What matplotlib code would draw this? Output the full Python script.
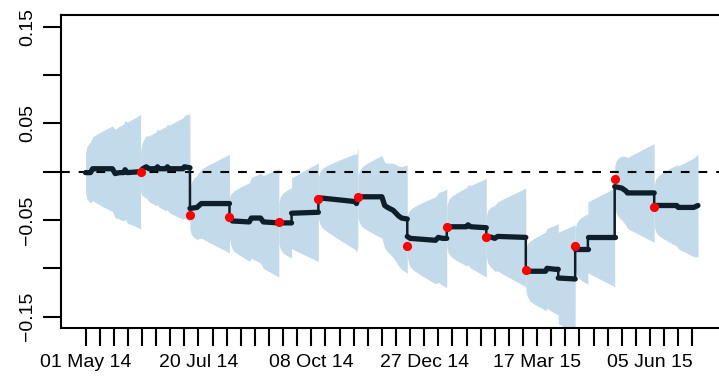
import datetime as dt
import numpy as np
import matplotlib
matplotlib.use("Agg")
import matplotlib.pyplot as plt

plt.rcParams['font.family'] = ['Liberation Sans', 'DejaVu Sans']

START = dt.date(2014, 5, 1)

# estimated series, as vertices (days since START, value); repeated day = jump
line_day = [0, 3.5, 5, 19, 21, 24, 27, 28, 29.5, 39, 40.5, 43, 45, 50, 51, 52, 57, 58, 59, 69, 70, 74,
            74, 79, 82, 102,
            102, 104, 116, 117.5, 124, 126, 137, 146,
            146, 165,
            165, 185, 191, 192, 193, 210, 212, 214, 218, 222, 224, 228,
            228, 230, 248, 250, 253, 256,
            256, 270, 271, 273, 284,
            284, 288, 290, 292, 312,
            312, 315, 326, 327, 333, 335,
            335, 347,
            347, 356,
            356, 375,
            375, 380, 383, 384, 403,
            403, 419, 420, 431, 434]
line_val = [-0.001, -0.001, 0.003, 0.003, -0.002, -0.001, -0.001, 0.002, -0.001, 0.000, 0.003, 0.005, 0.003,
            0.003, 0.005, 0.003, 0.003, 0.005, 0.003, 0.003, 0.005, 0.004,
            -0.038, -0.037, -0.033, -0.033,
            -0.048, -0.051, -0.052, -0.048, -0.048, -0.052, -0.053, -0.053,
            -0.043, -0.042,
            -0.027, -0.030, -0.031, -0.033, -0.026, -0.026, -0.035, -0.037, -0.040, -0.046, -0.048, -0.049,
            -0.067, -0.069, -0.071, -0.068, -0.069, -0.069,
            -0.057, -0.057, -0.055, -0.057, -0.058,
            -0.067, -0.068, -0.069, -0.067, -0.068,
            -0.101, -0.103, -0.103, -0.100, -0.101, -0.101,
            -0.110, -0.111,
            -0.080, -0.080,
            -0.068, -0.068,
            -0.0155, -0.017, -0.020, -0.022, -0.022,
            -0.035, -0.035, -0.037, -0.037, -0.035]

# forecast origins (red points)
origin_day = [39, 74, 102, 137, 165, 193, 228, 256, 284, 312, 347, 375, 403]
origin_val = [0.000, -0.045, -0.047, -0.052, -0.028, -0.026, -0.077, -0.057, -0.068, -0.102, -0.077, -0.008, -0.037]

# interval half-width vs. days since window start
band_h = [0, 1, 3, 6, 12, 20, 28, 35, 40]
band_w = [0.021, 0.027, 0.031, 0.034, 0.039, 0.045, 0.051, 0.056, 0.060]

window_start = [0] + origin_day
window_end = origin_day + [434]

xtick_days = list(range(0, 431, 10))
xlabel_days = [0, 80, 160, 240, 320, 400]
ytick_vals = [-0.15, -0.10, -0.05, 0.0, 0.05, 0.10, 0.15]
ytick_labels = ['\u22120.15', '', '\u22120.05', '', '0.05', '', '0.15']

line_color = '#0f1e2b'
band_color = '#c3daea'

fig = plt.figure(figsize=(7.19, 3.78), dpi=100)
ax = fig.add_axes([61 / 719, 1 - 328 / 378, (722.5 - 61) / 719, (328 - 15) / 378])

ld = np.array(line_day, dtype=float)
lv = np.array(line_val)

for s, e in zip(window_start, window_end):
    t = np.linspace(s + 0.01, e, 600)
    c = np.interp(t, ld, lv)
    w = np.interp(t - s, band_h, band_w)
    ax.fill_between(t, c - w, c + w, color=band_color, lw=0, zorder=1)

ax.axhline(0, color='black', lw=1.5, dashes=(4.2, 4.3), zorder=2)

# thin connectors for the jumps, thick runs for the flat parts
ax.plot(ld, lv, color=line_color, lw=1.8, zorder=3)
breaks = np.where(np.diff(ld) == 0)[0] + 1
for seg_d, seg_v in zip(np.split(ld, breaks), np.split(lv, breaks)):
    ax.plot(seg_d, seg_v, color=line_color, lw=3.8, solid_capstyle='round',
            solid_joinstyle='round', zorder=4)

ax.plot(origin_day, origin_val, 'o', color='#ff0000', ms=6.6, mec='none', zorder=5)

ax.set_xlim(-17.4, 451.4)
ax.set_ylim(-0.1617, 0.162)

ax.set_xticks(xtick_days)
ax.set_xticklabels([(START + dt.timedelta(days=d)).strftime('%d %b %y') if d in xlabel_days else ''
                    for d in xtick_days])
ax.set_yticks(ytick_vals)
ax.set_yticklabels(ytick_labels, rotation=90, va='center')

ax.tick_params(axis='both', length=13, width=1.5, labelsize=14, color='black')
ax.tick_params(axis='x', pad=6)
ax.tick_params(axis='y', pad=5)
for side in ['left', 'top', 'bottom', 'right']:
    ax.spines[side].set_linewidth(1.5)

fig.savefig('out.png', dpi=100)
